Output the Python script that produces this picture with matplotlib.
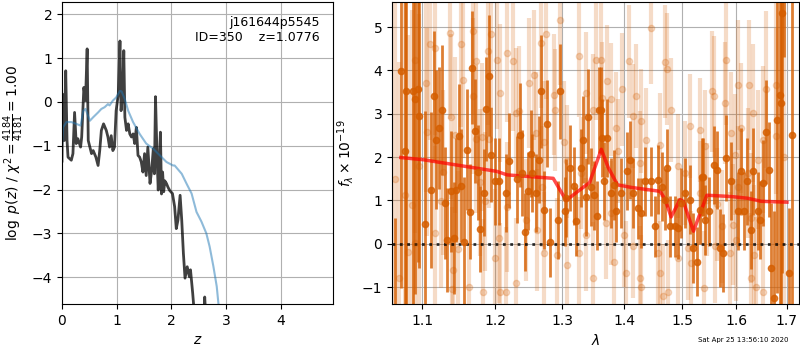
import numpy as np
import matplotlib
matplotlib.use('Agg')
import matplotlib.pyplot as plt
from matplotlib.ticker import FixedLocator, FixedFormatter, NullLocator

# left panel: log p(z) and scaled chi2
z_pz = [0.0, 0.01, 0.019, 0.043, 0.068, 0.092, 0.11, 0.17, 0.20, 0.23, 0.26, 0.29, 0.34, 0.36,
        0.40, 0.43, 0.46, 0.48, 0.51, 0.54, 0.57, 0.62, 0.66, 0.69, 0.72, 0.76, 0.81, 0.84,
        0.87, 0.90, 0.93, 0.96, 0.99, 1.03, 1.06, 1.08, 1.11, 1.13, 1.15, 1.18, 1.21, 1.24,
        1.27, 1.30, 1.33, 1.36, 1.39, 1.42, 1.45, 1.48, 1.51, 1.54, 1.57, 1.61, 1.64, 1.67,
        1.69, 1.71, 1.74, 1.76, 1.78, 1.80, 1.82, 1.84, 1.86, 1.88, 1.91, 1.94, 1.97, 2.02,
        2.06, 2.09, 2.12, 2.16, 2.19, 2.22, 2.25, 2.29, 2.33, 2.35, 2.39, 2.41, 2.45, 2.55,
        2.60, 2.61, 2.63, 2.70, 3.0, 5.0]
logp = [-1.35, 0.18, -0.4, -0.88, 0.71, -0.88, -1.26, -1.33, -1.18, -0.24, -0.95, -0.84, -1.03,
        -0.80, 0.33, 0.03, 1.21, -0.88, -1.03, -1.18, -1.11, -1.26, -1.45, -1.11, -0.65, -0.50,
        -0.65, -0.80, -1.03, -0.77, -1.11, -1.03, -0.20, 0.18, 1.39, -0.20, 0.18, 1.17, -0.35,
        -0.65, -0.50, -0.73, -0.80, -0.73, -0.95, -0.58, -1.22, -1.26, -1.37, -1.60, -1.18,
        -1.68, -1.03, -1.86, -1.56, -1.07, -1.64, 0.12, -1.33, -2.01, -1.40, -0.69, -2.10,
        -1.60, -2.05, -1.80, -1.86, -1.95, -2.02, -2.09, -2.39, -2.89, -2.70, -2.13, -2.70,
        -3.45, -4.02, -3.76, -3.99, -3.83, -4.36, -4.67, -5.5, -5.2, -4.75, -4.45, -4.9, -6.0,
        -8.0, -20.0]
z_chi = [0.0, 0.019, 0.08, 0.17, 0.26, 0.34, 0.39, 0.43, 0.51, 0.57, 0.66, 0.72, 0.78, 0.84,
         0.87, 0.93, 0.99, 1.06, 1.09, 1.15, 1.21, 1.30, 1.42, 1.54, 1.67, 1.79, 1.91, 2.03,
         2.06, 2.19, 2.28, 2.37, 2.46, 2.55, 2.64, 2.70, 2.77, 2.83, 2.86, 2.90, 3.0]
chi_scaled = [-1.0, -0.58, -0.46, -0.46, -0.50, -0.54, -0.20, -0.16, -0.43, -0.35, -0.24,
              -0.16, -0.12, -0.05, -0.08, 0.03, 0.10, 0.25, 0.24, 0.06, -0.20, -0.46, -0.73,
              -0.95, -1.07, -1.22, -1.37, -1.45, -1.45, -1.64, -1.87, -2.09, -2.51, -2.73,
              -3.0, -3.3, -3.76, -4.21, -4.59, -5.0, -6.0]

# right panel: spectrum points (dark = fitted grism, light = other PA)
wave_d = [1.0647, 1.0727, 1.0771, 1.0788, 1.0875, 1.0901, 1.0944, 1.0953, 1.1040, 1.1119,
          1.1159, 1.1185, 1.1218, 1.1262, 1.1307, 1.1330, 1.1388, 1.1421, 1.1456, 1.1489,
          1.1524, 1.1566, 1.1608, 1.1641, 1.1673, 1.1719, 1.1757, 1.1789, 1.1837, 1.1874,
          1.1908, 1.1945, 1.2002, 1.2049, 1.2149, 1.2198, 1.2322, 1.2361, 1.2396, 1.2435,
          1.2486, 1.2520, 1.2545, 1.2594, 1.2644, 1.2669, 1.2718, 1.2768, 1.2817, 1.2932,
          1.2966, 1.3044, 1.3061, 1.3126, 1.3180, 1.3208, 1.3290, 1.3328, 1.3372, 1.3410,
          1.3454, 1.3498, 1.3552, 1.3590, 1.3613, 1.3639, 1.3667, 1.3721, 1.3777, 1.3831,
          1.3859, 1.3941, 1.4052, 1.4094, 1.4140, 1.4227, 1.4287, 1.4344, 1.4461, 1.4519,
          1.4577, 1.4636, 1.4694, 1.4724, 1.4781, 1.4869, 1.4926, 1.4986, 1.5046, 1.5138,
          1.5198, 1.5261, 1.5321, 1.5352, 1.5376, 1.5418, 1.5481, 1.5573, 1.5633, 1.5694,
          1.5756, 1.5798, 1.5908, 1.6033, 1.6097, 1.6149, 1.6213, 1.6277, 1.6323, 1.6420,
          1.6470, 1.6516, 1.6580, 1.6644, 1.6677, 1.6741, 1.6807, 1.6857, 1.6880, 1.6903,
          1.6950, 1.7046, 1.7100]
flux_d = [-2.0, 3.98, 2.13, 3.52, 3.52, 3.34, 3.57, 2.94, 0.46, 1.25,
          3.40, 2.40, 2.67, 3.09, 0.94, 0.09, 1.21, 0.13, 1.23, 2.49,
          1.34, 0.03, 2.17, 0.74, 4.06, 2.61, 1.65, 0.34, 1.18, 3.11,
          3.88, 2.06, 1.44, 1.44, 1.18, 1.92, 1.49, 2.52, 1.63, 0.28,
          1.21, 2.08, 1.63, 1.18, 1.94, 3.52, 0.77, 2.77, 0.03, 0.54,
          3.52, 0.75, 1.05, 1.75, 1.34, 0.52, 1.75, 2.40, 1.09, 2.93,
          1.32, 1.12, 0.65, 3.09, 3.09, 2.44, 1.44, 2.44, 1.17, 1.36,
          0.75, 1.17, 1.67, 1.94, 1.17, 0.82, 0.71, 1.44, 1.44, 0.40,
          1.48, 1.32, 1.02, 1.75, 0.40, 0.40, 0.36, 0.94, 1.17, 1.02,
          -0.10, -0.41, 0.79, 1.55, 1.55, 0.55, 0.75, 1.82, 1.71, -0.10,
          -0.21, 1.98, 1.44, 0.75, 1.67, 0.75, 1.44, 0.32, 1.67, 0.75,
          0.55, 1.40, 2.59, 1.71, -0.56, -1.25, 2.86, 3.44, 3.25, 5.33,
          7.0, -0.68, 2.5]
err_d = [2.6, 5.0, 5.0, 5.0, 5.0, 4.5, 4.0, 3.5, 2.6, 1.8,
         1.5, 1.6, 1.4, 1.5, 1.3, 1.2, 1.4, 1.3, 1.2, 1.2,
         1.3, 1.5, 1.4, 1.1, 1.3, 1.2, 1.1, 1.0, 1.0, 1.2,
         1.4, 1.1, 1.0, 1.0, 0.9, 1.1, 1.0, 1.2, 1.0, 0.9,
         0.9, 1.0, 0.9, 0.9, 1.0, 1.3, 0.9, 1.0, 0.8, 0.9,
         1.1, 0.8, 0.9, 1.0, 0.9, 0.8, 0.9, 1.0, 0.9, 1.1,
         0.9, 0.8, 0.8, 1.0, 1.0, 0.9, 0.9, 0.9, 0.8, 0.8,
         0.7, 0.8, 0.9, 0.9, 0.8, 0.7, 0.8, 0.8, 0.8, 0.7,
         0.8, 0.8, 0.7, 0.9, 0.7, 0.7, 0.7, 0.8, 0.8, 0.8,
         0.8, 0.8, 0.8, 0.9, 0.9, 0.8, 0.8, 0.9, 0.9, 0.9,
         0.9, 1.0, 0.9, 0.9, 1.0, 0.9, 1.0, 0.9, 1.0, 0.9,
         0.9, 1.0, 1.2, 1.1, 1.5, 2.0, 4.0, 5.0, 5.5, 6.0,
         2.7, 1.5, 4.0]

wave_l = [1.0650, 1.0700, 1.0779, 1.0812, 1.0860, 1.0901, 1.0909, 1.0960, 1.1051, 1.1065,
          1.1096, 1.1171, 1.1171, 1.1248, 1.1271, 1.1372, 1.1385, 1.1399, 1.1409, 1.1432,
          1.1477, 1.1523, 1.1546, 1.1629, 1.1684, 1.1684, 1.1721, 1.1721, 1.1784, 1.1812,
          1.1821, 1.1859, 1.1890, 1.1914, 1.1936, 1.2003, 1.2025, 1.2049, 1.2074, 1.2074,
          1.2149, 1.2174, 1.2174, 1.2257, 1.2297, 1.2297, 1.2346, 1.2446, 1.2495, 1.2569,
          1.2594, 1.2619, 1.2669, 1.2693, 1.2718, 1.2718, 1.2743, 1.2866, 1.2891, 1.2917,
          1.2966, 1.3033, 1.3072, 1.3072, 1.3262, 1.3262, 1.3290, 1.3372, 1.3372, 1.3482,
          1.3492, 1.3536, 1.3613, 1.3639, 1.3695, 1.3721, 1.3777, 1.3777, 1.3831, 1.3859,
          1.3900, 1.3967, 1.3995, 1.4024, 1.4082, 1.4140, 1.4140, 1.4199, 1.4257, 1.4257,
          1.4287, 1.4287, 1.4374, 1.4461, 1.4577, 1.4607, 1.4607, 1.4665, 1.4694, 1.4724,
          1.4752, 1.4811, 1.4926, 1.4926, 1.5046, 1.5114, 1.5138, 1.5169, 1.5321, 1.5321,
          1.5389, 1.5418, 1.5450, 1.5541, 1.5591, 1.5602, 1.5633, 1.5725, 1.5786, 1.5798,
          1.5877, 1.5895, 1.5940, 1.5969, 1.6000, 1.6033, 1.6033, 1.6097, 1.6226, 1.6238,
          1.6277, 1.6290, 1.6323, 1.6354, 1.6387, 1.6420, 1.6516, 1.6516, 1.6580, 1.6774,
          1.6774, 1.6950]
flux_l = [1.5, -0.8, 1.13, -0.18, 0.9, 4.25, 0.02, 1.8, 3.70, 2.59,
          4.60, 4.52, 0.26, 0.98, 1.65, 4.87, 2.93, -1.05, -0.60, 2.52,
          -0.12, 4.60, 3.79, -0.99, 4.90, 3.40, 4.21, 2.42, 1.42, 2.46,
          -1.12, 0.98, 4.44, 2.42, 4.85, -0.33, 4.25, 0.13, 3.48, -1.12,
          -1.12, 4.40, 0.86, 4.21, 3.02, -0.91, 3.06, 0.55, 3.71, 3.90,
          2.56, 0.32, 4.63, 1.32, 2.36, -0.21, 4.83, 3.44, 3.09, -0.25,
          5.17, 2.36, 1.90, -0.48, 4.33, -0.21, 1.63, 3.48, 0.21, 3.09,
          -0.79, 4.25, 4.25, 3.36, 0.48, 3.75, 3.33, 0.71, -0.41, 2.67,
          2.13, 3.56, 0.21, -0.68, 4.21, 2.94, -0.06, 3.40, 1.86, -0.79,
          2.83, -0.99, 2.40, 4.98, -0.21, 2.29, -0.68, -1.20, 4.20, 4.03,
          -1.12, 3.09, 1.79, -0.33, 1.63, -0.10, 2.72, -0.45, 2.63, 1.17,
          -1.01, 2.25, 1.02, 3.52, 3.40, -0.06, 0.91, 0.40, 3.25, 4.25,
          -0.21, 2.56, 0.44, 2.06, 0.09, 3.67, 1.32, 2.67, 1.63, 3.67,
          0.59, -0.79, 3.02, -0.25, -0.99, 1.94, 2.40, -1.12, 3.56, 2.48,
          3.66, 2.0]
err_l = [5.0, 5.0, 5.0, 5.0, 4.5, 4.0, 4.0, 3.5, 2.5, 2.4,
         2.2, 2.0, 2.0, 2.0, 1.9, 2.0, 1.9, 1.9, 1.8, 1.8,
         1.8, 1.9, 1.8, 1.8, 1.9, 1.8, 1.7, 1.7, 1.7, 1.7,
         1.7, 1.6, 1.7, 1.6, 1.7, 1.6, 1.6, 1.5, 1.6, 1.6,
         1.5, 1.6, 1.5, 1.6, 1.5, 1.5, 1.5, 1.4, 1.5, 1.5,
         1.4, 1.4, 1.5, 1.4, 1.4, 1.4, 1.5, 1.4, 1.4, 1.3,
         1.5, 1.4, 1.3, 1.3, 1.4, 1.3, 1.3, 1.4, 1.3, 1.3,
         1.3, 1.4, 1.4, 1.3, 1.3, 1.3, 1.3, 1.2, 1.2, 1.3,
         1.2, 1.3, 1.2, 1.2, 1.3, 1.2, 1.2, 1.2, 1.2, 1.2,
         1.2, 1.2, 1.2, 1.3, 1.2, 1.2, 1.2, 1.2, 1.3, 1.3,
         1.2, 1.2, 1.2, 1.2, 1.2, 1.2, 1.2, 1.2, 1.2, 1.2,
         1.3, 1.3, 1.3, 1.4, 1.4, 1.3, 1.3, 1.3, 1.4, 1.5,
         1.4, 1.4, 1.4, 1.4, 1.4, 1.5, 1.4, 1.5, 1.5, 1.5,
         1.5, 1.5, 1.6, 1.6, 1.6, 1.6, 1.7, 1.7, 1.8, 2.5,
         2.5, 4.0]

wave_m = [1.072, 1.101, 1.2025, 1.217, 1.286, 1.306, 1.3236, 1.343, 1.362, 1.3733, 1.3886,
          1.412, 1.4612, 1.47, 1.4804, 1.4962, 1.502, 1.5205, 1.545, 1.591, 1.6226, 1.6484,
          1.700]
flux_m = [1.99, 1.94, 1.67, 1.59, 1.51, 1.0, 1.2, 1.41, 2.18, 1.76, 1.36,
          1.30, 1.21, 1.02, 0.62, 1.02, 0.98, 0.29, 1.12, 1.09, 1.05, 0.98,
          0.96]

grism_color = (0.8353, 0.3686, 0.0)

fig = plt.figure(figsize=(8, 3.5), dpi=100)
ax1 = fig.add_axes([0.0775, 0.1314, 0.339, 0.863])
ax2 = fig.add_axes([0.49, 0.1314, 0.509, 0.863])

ax1.plot(z_pz, logp, color='k', alpha=0.75, lw=2)
ax1.plot(z_chi, chi_scaled, color='tab:blue', alpha=0.5, lw=1.5)
ax1.set_xlim(0, 4.96)
ax1.set_ylim(-4.61, 2.28)
ax1.set_xticks([0, 1, 2, 3, 4])
ax1.set_yticks([-4, -3, -2, -1, 0, 1, 2])
ax1.set_xlabel(r'$z$')
ax1.set_ylabel(r'$\log\ p(z)$ / $\chi^2=\frac{4184}{4181}=1.00$')
ax1.text(0.95, 0.955, 'j161644p5545\nID=350    z=1.0776', transform=ax1.transAxes,
         ha='right', va='top', fontsize=9)
ax1.grid(True)

ax2.errorbar(wave_l, flux_l, yerr=err_l, color=grism_color, alpha=0.22, marker='.',
             ms=9, linestyle='None', lw=3)
ax2.errorbar(wave_d, flux_d, yerr=err_d, color=grism_color, alpha=0.8, marker='.',
             ms=9, linestyle='None', lw=2)
ax2.plot(wave_m, flux_m, color='r', alpha=0.7, lw=2.5)
ax2.axhline(0, color='k', linestyle=':', lw=2, alpha=0.8)
ax2.set_xscale('log')
ax2.set_xlim(1.0608, 1.7251)
ax2.set_ylim(-1.39, 5.58)
xt = [1.1, 1.2, 1.3, 1.4, 1.5, 1.6, 1.7]
ax2.xaxis.set_major_locator(FixedLocator(xt))
ax2.xaxis.set_major_formatter(FixedFormatter(['1.1', '1.2', '1.3', '1.4', '1.5', '1.6', '1.7']))
ax2.xaxis.set_minor_locator(NullLocator())
ax2.set_yticks([-1, 0, 1, 2, 3, 4, 5])
ax2.set_xlabel(r'$\lambda$')
ax2.set_ylabel(r'$f_\lambda\times10^{-19}$')
ax2.grid(True)

fig.text(0.985, 0.02, 'Sat Apr 25 13:56:10 2020', ha='right', va='bottom', fontsize=5)

fig.savefig('out.png', dpi=100)
